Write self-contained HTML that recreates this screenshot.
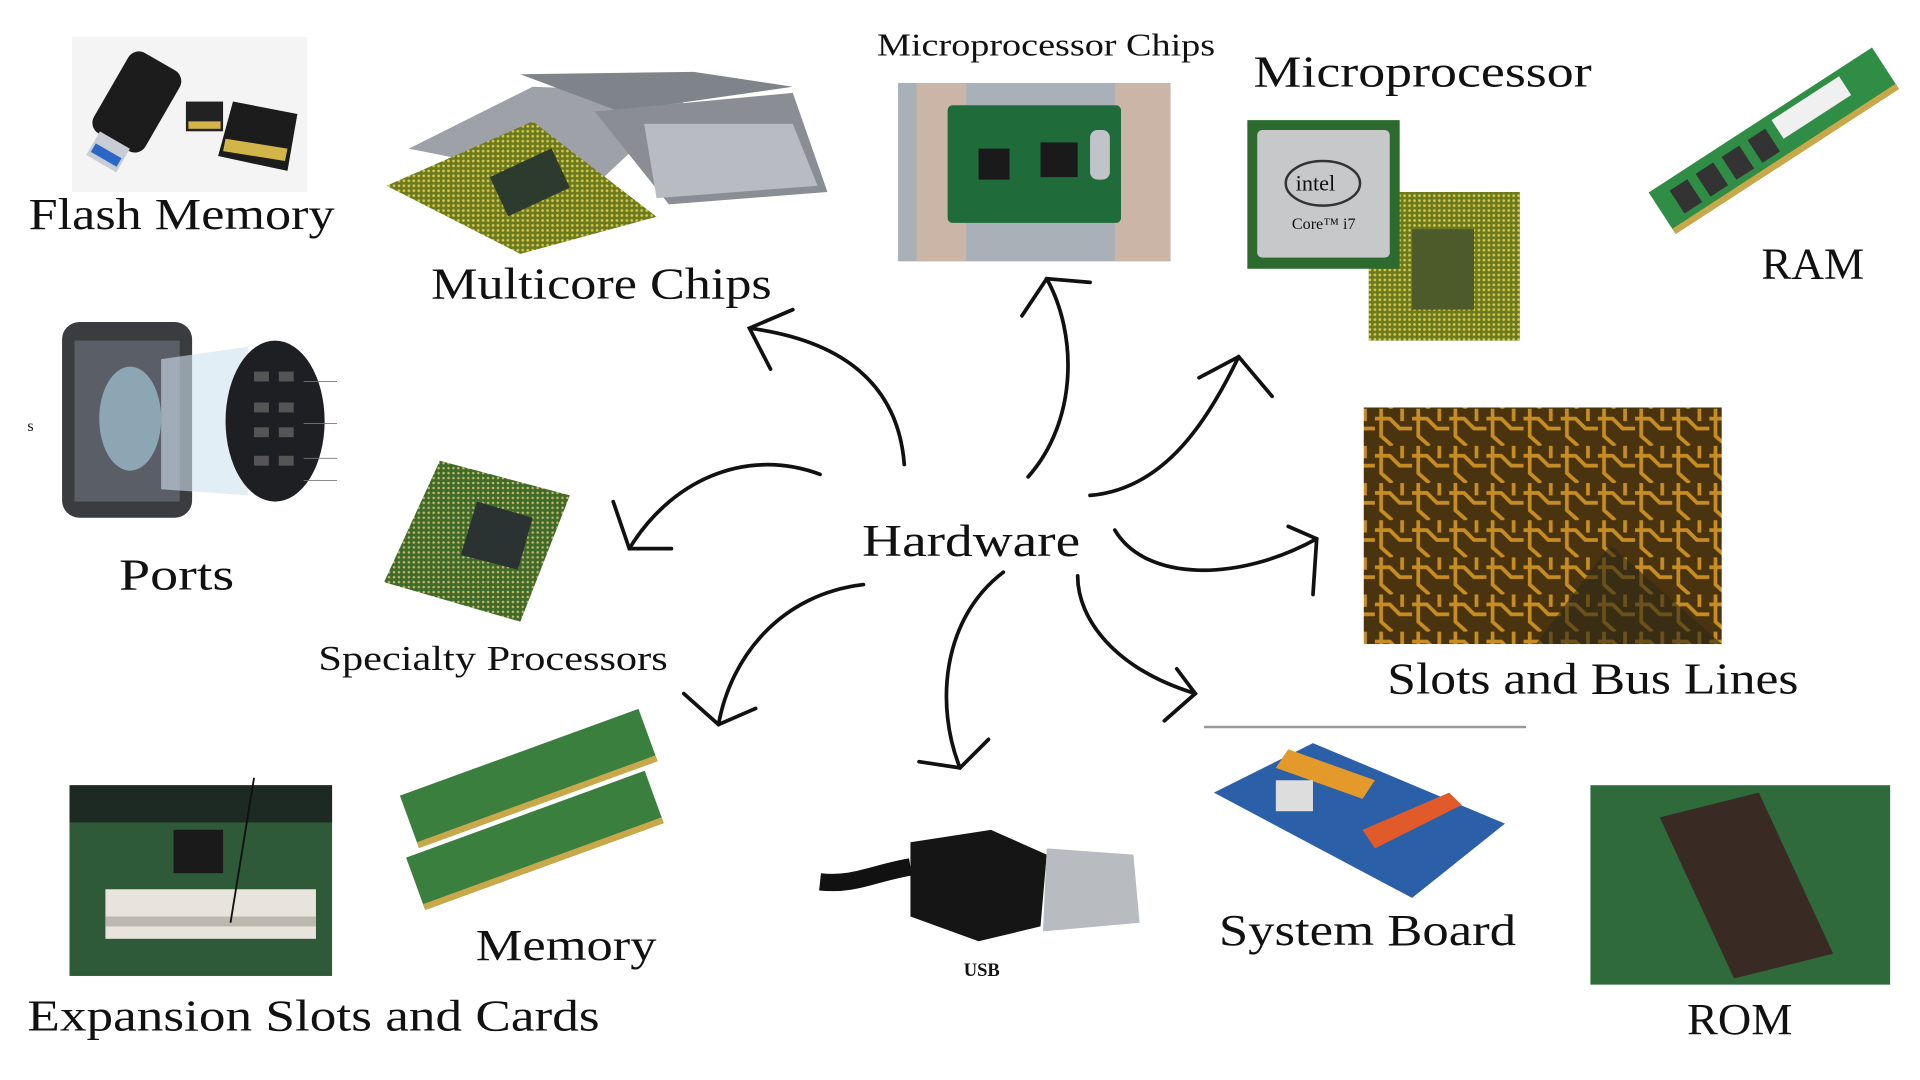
<!DOCTYPE html>
<html><head><meta charset="utf-8"><style>
html,body{margin:0;padding:0;background:#fff;width:1920px;height:1080px;overflow:hidden}
svg{display:block}
text{font-family:"Liberation Serif",serif;fill:#111}
</style></head><body>
<svg width="1920" height="1080" viewBox="0 0 1550 872" xmlns="http://www.w3.org/2000/svg">
<rect width="1550" height="872" fill="#fff"/>
<defs>
<pattern id="dots" width="4" height="4" patternUnits="userSpaceOnUse"><rect width="4" height="4" fill="#3f6b2a"/><circle cx="2" cy="2" r="1" fill="#c9b86a"/></pattern>
<pattern id="ydots" width="4" height="4" patternUnits="userSpaceOnUse"><rect width="4" height="4" fill="#6b7a1f"/><circle cx="2" cy="2" r="1.1" fill="#d8c84a"/></pattern>
<pattern id="pcb" width="30" height="30" patternUnits="userSpaceOnUse"><rect width="30" height="30" fill="#4a3410"/><path d="M0 8 L12 8 L20 16 L30 16 M5 0 L5 22 L14 30 M22 0 L22 10" stroke="#c88d22" stroke-width="3" fill="none"/></pattern>
</defs>

<!-- Flash memory -->
<rect x="58" y="30" width="190" height="125" fill="#f4f4f4"/>
<g transform="rotate(30 110 85)"><rect x="85" y="45" width="48" height="75" rx="10" fill="#1c1c1c"/><rect x="95" y="118" width="28" height="22" fill="#c8ccd4"/><rect x="97" y="128" width="24" height="8" fill="#2a66c4"/></g>
<rect x="150" y="82" width="30" height="24" fill="#222"/><rect x="152" y="98" width="26" height="6" fill="#d2b548"/>
<polygon points="188,82 240,92 232,138 176,126" fill="#1c1c1c"/><polygon points="182,112 232,120 230,130 180,122" fill="#d2b548"/>
<text x="23" y="185" font-size="36" textLength="247" lengthAdjust="spacingAndGlyphs">Flash Memory</text>

<!-- Multicore chips -->
<polygon points="330,120 430,70 560,75 480,150" fill="#9ea2a8"/>
<polygon points="420,60 560,58 640,70 500,90" fill="#7f848a"/>
<polygon points="480,90 640,75 668,155 540,165" fill="#8a8e94"/>
<polygon points="520,100 640,100 660,150 530,160" fill="#b8bcc2"/>
<polygon points="312,150 430,98 530,175 420,205" fill="url(#ydots)"/>
<rect x="400" y="130" width="55" height="35" fill="#2d3a2e" transform="rotate(-25 427 147)"/>
<text x="348" y="241" font-size="36" textLength="275" lengthAdjust="spacingAndGlyphs">Multicore Chips</text>

<!-- Microprocessor chips -->
<text x="708" y="45" font-size="26" textLength="273" lengthAdjust="spacingAndGlyphs">Microprocessor Chips</text>
<rect x="725" y="67" width="220" height="144" fill="#a9b0b8"/>
<rect x="740" y="67" width="40" height="144" fill="#d9b8a0" opacity="0.7"/>
<rect x="900" y="67" width="45" height="144" fill="#d9b8a0" opacity="0.7"/>
<rect x="765" y="85" width="140" height="95" rx="4" fill="#1f6b3a"/>
<rect x="840" y="115" width="30" height="28" fill="#1a1a1a"/><rect x="790" y="120" width="25" height="25" fill="#1a1a1a"/><rect x="880" y="105" width="16" height="40" rx="6" fill="#c0c4c8"/>

<!-- Microprocessor -->
<text x="1012" y="70" font-size="36" textLength="273" lengthAdjust="spacingAndGlyphs">Microprocessor</text>
<rect x="1105" y="155" width="122" height="120" fill="url(#ydots)"/>
<rect x="1140" y="185" width="50" height="65" fill="#4d5a2a"/>
<rect x="1007" y="97" width="123" height="120" fill="#2c6a2e"/>
<rect x="1015" y="105" width="107" height="103" rx="4" fill="#c6c8ca"/>
<ellipse cx="1068" cy="148" rx="30" ry="18" fill="none" stroke="#333" stroke-width="2"/>
<text x="1046" y="154" font-size="18" font-family="Liberation Sans,sans-serif">intel</text>
<text x="1043" y="185" font-size="13" font-family="Liberation Sans,sans-serif">Core™ i7</text>

<!-- RAM -->
<g transform="rotate(-33 1430 115)"><rect x="1325" y="95" width="215" height="40" fill="#2f8d45"/><rect x="1440" y="100" width="65" height="18" fill="#f0f0f0"/><rect x="1340" y="103" width="17" height="22" fill="#333"/><rect x="1365" y="103" width="17" height="22" fill="#333"/><rect x="1390" y="103" width="17" height="22" fill="#333"/><rect x="1415" y="103" width="17" height="22" fill="#333"/><rect x="1325" y="130" width="215" height="5" fill="#c9a84a"/></g>
<text x="1422" y="225" font-size="36" textLength="83" lengthAdjust="spacingAndGlyphs">RAM</text>

<!-- Ports -->
<text x="22" y="348" font-size="13" font-family="Liberation Sans,sans-serif">s</text>
<rect x="50" y="260" width="105" height="158" rx="14" fill="#3a3c40"/>
<rect x="60" y="275" width="85" height="130" fill="#5a5e66"/>
<ellipse cx="105" cy="338" rx="25" ry="42" fill="#9ab8c8" opacity="0.8"/>
<polygon points="130,290 200,280 200,400 130,395" fill="#cfe2ee" opacity="0.6"/>
<ellipse cx="222" cy="340" rx="40" ry="65" fill="#1e1f22"/>
<g fill="#555"><rect x="205" y="300" width="12" height="8"/><rect x="225" y="300" width="12" height="8"/><rect x="205" y="325" width="12" height="8"/><rect x="225" y="325" width="12" height="8"/><rect x="205" y="345" width="12" height="8"/><rect x="225" y="345" width="12" height="8"/><rect x="205" y="368" width="12" height="8"/><rect x="225" y="368" width="12" height="8"/></g>
<g stroke="#777" stroke-width="0.7"><line x1="245" y1="308" x2="272" y2="308"/><line x1="245" y1="342" x2="272" y2="342"/><line x1="245" y1="370" x2="272" y2="370"/><line x1="245" y1="388" x2="272" y2="388"/></g>
<text x="96" y="476" font-size="36" textLength="93" lengthAdjust="spacingAndGlyphs">Ports</text>

<!-- Specialty processors -->
<polygon points="355,372 460,400 420,502 310,470" fill="url(#dots)"/>
<polygon points="385,405 430,418 418,460 372,448" fill="#2a3232"/>
<text x="257" y="541" font-size="28" textLength="282" lengthAdjust="spacingAndGlyphs">Specialty Processors</text>

<!-- Hardware -->
<text x="696" y="449" font-size="37" textLength="176" lengthAdjust="spacingAndGlyphs">Hardware</text>

<!-- Slots and bus lines -->
<rect x="1101" y="329" width="289" height="191" fill="url(#pcb)"/>
<polygon points="1240,520 1300,440 1390,520" fill="#2e2a18" opacity="0.6"/>
<text x="1120" y="560" font-size="36" textLength="332" lengthAdjust="spacingAndGlyphs">Slots and Bus Lines</text>

<!-- Expansion slots -->
<rect x="56" y="634" width="212" height="154" fill="#2f5a3a"/>
<rect x="56" y="634" width="212" height="30" fill="#1d2a24"/>
<rect x="140" y="670" width="40" height="35" fill="#1a1a1a"/>
<rect x="85" y="718" width="170" height="40" fill="#e8e4dc"/>
<rect x="85" y="740" width="170" height="8" fill="#bdb8ae"/>
<line x1="205" y1="628" x2="186" y2="745" stroke="#111" stroke-width="1.5"/>
<text x="22" y="832" font-size="36" textLength="462" lengthAdjust="spacingAndGlyphs">Expansion Slots and Cards</text>

<!-- Memory -->
<g transform="rotate(-20 430 630)"><rect x="325" y="605" width="205" height="45" fill="#3a7f3e"/><rect x="325" y="645" width="205" height="5" fill="#c9a84a"/></g>
<g transform="rotate(-20 435 680)"><rect x="330" y="655" width="205" height="45" fill="#3a7f3e"/><rect x="330" y="695" width="205" height="5" fill="#c9a84a"/></g>
<text x="384" y="775" font-size="36" textLength="146" lengthAdjust="spacingAndGlyphs">Memory</text>

<!-- USB -->
<path d="M662 712 C690 715 705 705 735 700" stroke="#111" stroke-width="14" fill="none"/>
<polygon points="735,680 800,670 845,690 840,748 790,760 735,740" fill="#151515"/>
<polygon points="845,685 915,690 920,745 842,752" fill="#b8bcc0"/>
<text x="778" y="788" font-size="15" font-weight="bold" font-family="Liberation Sans,sans-serif">USB</text>

<!-- System board -->
<line x1="972" y1="587" x2="1232" y2="587" stroke="#999" stroke-width="2"/>
<polygon points="980,640 1060,600 1215,665 1140,725" fill="#2b5fa8"/>
<polygon points="1040,605 1110,630 1100,645 1030,620" fill="#e39a2a"/>
<polygon points="1100,670 1170,640 1180,650 1110,685" fill="#e05a2a"/>
<rect x="1030" y="630" width="30" height="25" fill="#ddd"/>
<text x="984" y="763" font-size="36" textLength="240" lengthAdjust="spacingAndGlyphs">System Board</text>

<!-- ROM -->
<rect x="1284" y="634" width="242" height="161" fill="#2f6a3a"/>
<polygon points="1340,660 1420,640 1480,770 1400,790" fill="#3a2a24"/>
<text x="1362" y="835" font-size="36" textLength="85" lengthAdjust="spacingAndGlyphs">ROM</text>

<!-- arrows -->
<g stroke="#111" stroke-width="3" fill="none" stroke-linecap="round">
<path d="M730 375 C725 310 680 275 605 265"/><path d="M640 250 L605 265 L622 298"/>
<path d="M830 385 C870 340 870 270 845 225"/><path d="M825 255 L845 225 L880 228"/>
<path d="M880 400 C940 395 975 340 1000 288"/><path d="M968 305 L1000 288 L1027 320"/>
<path d="M900 428 C925 470 1000 470 1063 435"/><path d="M1040 425 L1063 435 L1060 480"/>
<path d="M870 465 C870 500 900 540 965 560"/><path d="M950 540 L965 560 L940 582"/>
<path d="M810 462 C760 500 755 570 775 620"/><path d="M742 615 L775 620 L798 597"/>
<path d="M697 472 C630 480 590 530 580 585"/><path d="M552 560 L580 585 L610 572"/>
<path d="M662 383 C600 360 540 390 508 443"/><path d="M495 405 L508 443 L542 443"/>
</g>
</svg>
</body></html>
